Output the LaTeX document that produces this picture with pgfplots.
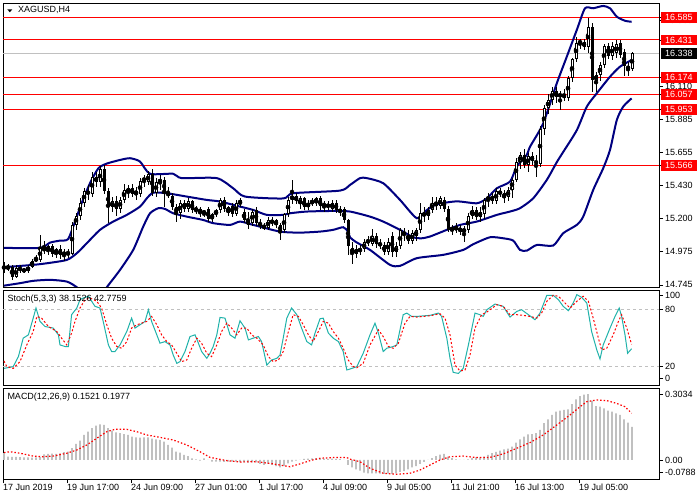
\documentclass[border=0pt]{standalone}
\usepackage{fontspec}
\setmainfont{Liberation Sans}
\usepackage{pgfplots}
\usepackage{pgfplotstable}
\pgfplotsset{compat=1.18}

\definecolor{bandblue}{HTML}{000080}
\definecolor{stochgreen}{HTML}{20B2AA}
\definecolor{silvergray}{HTML}{C0C0C0}

% XAGUSD H4 candles, x = bar number (4 px per bar)
\pgfplotstableread{
i o h l c
0 14.87 14.90 14.83 14.86
1 14.86 14.89 14.84 14.87
2 14.87 14.88 14.78 14.80
3 14.80 14.88 14.79 14.86
4 14.86 14.88 14.83 14.85
5 14.85 14.86 14.83 14.84
6 14.84 14.88 14.83 14.87
7 14.87 14.92 14.86 14.91
8 14.91 14.95 14.90 14.93
9 14.92 15.09 14.90 15.00
10 15.00 15.05 14.96 14.98
11 14.98 15.02 14.95 15.01
12 15.01 15.03 14.94 14.96
13 14.96 15.00 14.93 14.99
14 14.99 15.02 14.92 14.95
15 14.95 14.99 14.91 14.97
16 14.97 14.99 14.93 14.96
17 14.96 15.18 14.95 15.16
18 15.16 15.24 15.12 15.22
19 15.22 15.34 15.19 15.31
20 15.31 15.41 15.28 15.39
21 15.39 15.43 15.33 15.37
22 15.37 15.52 15.35 15.49
23 15.49 15.52 15.42 15.45
24 15.45 15.56 15.42 15.54
25 15.54 15.57 15.37 15.39
26 15.39 15.41 15.17 15.28
27 15.28 15.35 15.25 15.32
28 15.32 15.36 15.22 15.27
29 15.27 15.35 15.24 15.33
30 15.33 15.44 15.31 15.40
31 15.38 15.43 15.34 15.41
32 15.41 15.44 15.35 15.37
33 15.37 15.42 15.33 15.39
34 15.37 15.48 15.35 15.46
35 15.46 15.50 15.42 15.48
36 15.45 15.53 15.43 15.51
37 15.51 15.54 15.36 15.38
38 15.38 15.48 15.35 15.45
39 15.45 15.50 15.40 15.47
40 15.47 15.49 15.28 15.38
41 15.38 15.42 15.34 15.36
42 15.36 15.38 15.26 15.28
43 15.28 15.30 15.18 15.24
44 15.24 15.33 15.20 15.31
45 15.31 15.33 15.25 15.27
46 15.27 15.34 15.25 15.32
47 15.32 15.33 15.24 15.26
48 15.26 15.29 15.23 15.27
49 15.27 15.28 15.21 15.24
50 15.24 15.26 15.21 15.25
51 15.27 15.28 15.18 15.20
52 15.20 15.24 15.18 15.23
53 15.23 15.27 15.21 15.26
54 15.26 15.34 15.24 15.33
55 15.33 15.35 15.25 15.27
56 15.24 15.29 15.22 15.28
57 15.29 15.31 15.21 15.23
58 15.23 15.33 15.22 15.31
59 15.30 15.34 15.28 15.33
60 15.25 15.27 15.17 15.19
61 15.19 15.25 15.13 15.16
62 15.17 15.27 15.15 15.25
63 15.26 15.28 15.15 15.17
64 15.17 15.20 15.13 15.15
65 15.15 15.17 15.12 15.14
66 15.14 15.21 15.12 15.19
67 15.19 15.21 15.15 15.17
68 15.19 15.20 15.14 15.16
69 15.16 15.17 15.055 15.11
70 15.12 15.24 15.10 15.23
71 15.23 15.35 15.21 15.33
72 15.33 15.47 15.30 15.36
73 15.36 15.38 15.30 15.32
74 15.30 15.36 15.27 15.34
75 15.34 15.35 15.26 15.28
76 15.28 15.33 15.26 15.31
77 15.31 15.34 15.29 15.32
78 15.31 15.35 15.29 15.34
79 15.34 15.36 15.26 15.29
80 15.29 15.32 15.25 15.30
81 15.30 15.32 15.26 15.28
82 15.27 15.33 15.25 15.31
83 15.31 15.33 15.24 15.26
84 15.26 15.29 15.22 15.25
85 15.27 15.28 15.17 15.19
86 15.19 15.20 14.95 15.01
87 15.00 15.04 14.89 14.96
88 14.96 15.02 14.93 14.99
89 14.99 15.02 14.95 14.98
90 14.99 15.06 14.97 15.04
91 15.04 15.08 15.01 15.05
92 15.03 15.13 15.01 15.08
93 15.08 15.10 15.00 15.03
94 15.03 15.06 14.99 15.02
95 15.02 15.04 14.95 14.97
96 14.97 15.07 14.95 15.04
97 15.08 15.11 14.94 14.97
98 14.97 15.04 14.94 15.01
99 15.01 15.14 14.99 15.12
100 15.11 15.14 15.05 15.09
101 15.09 15.12 15.03 15.05
102 15.05 15.12 15.03 15.10
103 15.08 15.14 15.05 15.12
104 15.12 15.31 15.10 15.24
105 15.24 15.28 15.18 15.22
106 15.22 15.28 15.19 15.26
107 15.26 15.35 15.24 15.31
108 15.31 15.35 15.26 15.29
109 15.29 15.36 15.27 15.34
110 15.33 15.35 15.25 15.27
111 15.27 15.29 15.11 15.12
112 15.12 15.16 15.09 15.14
113 15.12 15.17 15.10 15.15
114 15.14 15.16 15.09 15.11
115 15.11 15.15 15.04 15.13
116 15.12 15.24 15.10 15.22
117 15.22 15.29 15.20 15.26
118 15.26 15.28 15.19 15.21
119 15.21 15.28 15.18 15.25
120 15.23 15.34 15.20 15.33
121 15.33 15.38 15.28 15.35
122 15.36 15.38 15.30 15.32
123 15.32 15.41 15.30 15.39
124 15.39 15.41 15.35 15.37
125 15.38 15.40 15.31 15.34
126 15.35 15.42 15.32 15.40
127 15.40 15.48 15.34 15.47
128 15.47 15.62 15.45 15.59
129 15.59 15.66 15.54 15.64
130 15.64 15.68 15.55 15.57
131 15.57 15.65 15.52 15.63
132 15.63 15.66 15.57 15.60
133 15.60 15.64 15.49 15.58
134 15.58 15.84 15.56 15.82
135 15.82 15.98 15.78 15.96
136 15.96 16.06 15.92 16.02
137 16.02 16.11 15.98 16.08
138 16.08 16.11 16.00 16.04
139 16.04 16.08 15.95 16.06
140 16.06 16.09 16.01 16.03
141 16.03 16.18 16.01 16.17
142 16.17 16.31 16.14 16.30
143 16.30 16.45 16.28 16.41
144 16.41 16.44 16.37 16.42
145 16.42 16.44 16.36 16.38
146 16.38 16.585 16.34 16.52
147 16.52 16.55 16.075 16.155
148 16.15 16.21 16.07 16.19
149 16.19 16.28 16.15 16.26
150 16.26 16.40 16.24 16.39
151 16.39 16.41 16.30 16.32
152 16.32 16.42 16.29 16.39
153 16.34 16.43 16.31 16.40
154 16.41 16.43 16.31 16.33
155 16.35 16.37 16.18 16.25
156 16.25 16.28 16.18 16.23
157 16.23 16.345 16.22 16.338
}\candles

\tikzset{
  pricebox/.style={text=white, inner xsep=4pt, inner ysep=2pt,
    text height=6.5pt, text depth=0pt},
}
\pgfplotsset{
  mt4/.style={
    scale only axis, width=656pt, anchor=south west,
    xmin=-0.25, xmax=163.75,
    axis line style={black, line width=0.9pt},
    tick style={black, line width=0.7pt},
    tick align=outside, major tick length=4pt,
    xtick pos=bottom, ytick pos=right, yticklabel pos=right,
    xtick=\empty,
    yticklabel style={anchor=west, inner xsep=2pt, inner ysep=1pt},
    /pgf/number format/assume math mode=true,
  },
  candle/.style={only marks, mark=none, forget plot,
    error bars/y dir=both, error bars/y explicit, error bars/error mark=none},
}

\begin{document}
\fontsize{9}{11}\selectfont
\begin{tikzpicture}
\useasboundingbox (0,0) rectangle (700pt,500pt);

% ---------------- price window ----------------
\begin{axis}[mt4, at={(3pt,213pt)}, height=284pt,
  ymin=14.7307, ymax=16.6853,
  ytick={14.745,14.975,15.200,15.430,15.655,15.885,16.110,16.565},
  yticklabels={14.745,14.975,15.200,15.430,15.655,15.885,16.110,16.565},
  extra y ticks={15.566,15.953,16.057,16.174,16.431,16.585},
  extra y tick labels={15.566,15.953,16.057,16.174,16.431,16.585},
  extra y tick style={grid=major, major grid style={red, line width=1pt},
    yticklabel style={pricebox, fill=red, xshift=-2pt}},
  clip mode=individual]

\addplot[silvergray, line width=0.8pt, forget plot] coordinates {(-0.25,16.338) (163.75,16.338)};

% Bollinger bands
\addplot[bandblue, line width=2pt, smooth, tension=0.4] coordinates {
(0,15.00) (9,15.00) (11.5,15.036) (14,15.05) (16,15.06) (17.75,15.18) (19.4,15.307)
(21.5,15.445) (23.6,15.548) (25.7,15.58) (29,15.605) (31.5,15.617) (34,15.594)
(36.5,15.51) (42.3,15.51) (44.4,15.48) (53.2,15.48) (57.3,15.41) (60.25,15.353)
(69.8,15.34) (72.3,15.376) (84,15.394) (86.5,15.433) (89,15.48) (90.7,15.48)
(94.8,15.445) (99,15.33) (103.2,15.204) (105.7,15.26) (108.2,15.30) (113.2,15.32)
(118.2,15.307) (120.7,15.34) (123.2,15.41) (126.5,15.456) (128.2,15.56) (130.7,15.64)
(131.5,15.696) (134.8,15.857) (138.2,16.133) (140.7,16.316) (143.2,16.50)
(145.25,16.649) (147.3,16.649) (149.8,16.665) (151.5,16.649) (153.2,16.591)
(155.25,16.563) (156.9,16.556)};
\addplot[bandblue, line width=2pt, smooth, tension=0.4] coordinates {
(0,14.867) (7.3,14.883) (10.7,14.894) (15.7,14.917) (18.2,14.963) (20.7,15.032)
(24,15.124) (27.3,15.181) (30.7,15.227) (34,15.284) (35.7,15.341) (37.3,15.38)
(40.7,15.376) (45.7,15.353) (50.7,15.33) (54,15.319) (59,15.284) (62.3,15.261)
(65.7,15.227) (69.8,15.227) (71.5,15.238) (75.7,15.25) (82.3,15.254) (86.5,15.25)
(91.5,15.215) (94.8,15.181) (99,15.124) (102.3,15.073) (104.4,15.066) (106.5,15.078)
(110.7,15.124) (114,15.158) (118.2,15.181) (123.2,15.227) (126.5,15.25) (129,15.273)
(132.3,15.341) (135.7,15.468) (138.2,15.59) (139.8,15.66) (143.2,15.81)
(145.7,15.972) (148.2,16.064) (151.5,16.178) (154,16.247) (156.9,16.293)};
\addplot[bandblue, line width=2pt, smooth, tension=0.4] coordinates {
(0,14.74) (4,14.757) (7.3,14.773) (11.5,14.78) (15.7,14.768) (18.2,14.729) (21,14.66)
(23.5,14.64) (25.7,14.729) (29,14.848) (32.3,14.986) (34.8,15.146) (36.5,15.238)
(38.6,15.273) (40.25,15.268) (42.3,15.238) (45.7,15.215) (49.8,15.192) (52.3,15.17)
(56.5,15.158) (59,15.181) (62.3,15.158) (69,15.112) (74,15.105) (79,15.112)
(82.3,15.124) (84.8,15.142) (86,15.112) (86.5,15.073) (88,15.04) (91.5,14.986)
(96.5,14.883) (99,14.876) (103.2,14.929) (109.8,14.952) (114.8,14.986) (117.3,15.025)
(121.5,15.073) (124.8,15.066) (127.3,15.05) (129,14.986) (130.7,14.981) (133.2,15.02)
(137.3,15.016) (139.8,15.101) (143.2,15.158) (144.8,15.215) (147.3,15.399)
(149.8,15.548) (151.5,15.674) (153.2,15.88) (154.8,15.972) (156.9,16.029)};

% candles: wicks, bearish bodies, bullish bodies (black outline, white inside)
\addplot[candle, error bars/error bar style={black, line width=1pt}]
  table[x=i, y expr={(\thisrow{h}+\thisrow{l})/2},
        y error expr={(\thisrow{h}-\thisrow{l})/2}] {\candles};
\addplot[candle, restrict y to domain=14:17,
  error bars/error bar style={black, line width=3pt}]
  table[x=i, y expr={ifthenelse(\thisrow{c}<\thisrow{o},(\thisrow{o}+\thisrow{c})/2,100)},
        y error expr={max(abs(\thisrow{o}-\thisrow{c})/2,0.0035)}] {\candles};
\addplot[candle, restrict y to domain=14:17,
  error bars/error bar style={black, line width=3pt}]
  table[x=i, y expr={ifthenelse(\thisrow{c}<\thisrow{o},100,(\thisrow{o}+\thisrow{c})/2)},
        y error expr={max(abs(\thisrow{o}-\thisrow{c})/2,0.0035)}] {\candles};
\addplot[candle, restrict y to domain=14:17,
  error bars/error bar style={white, line width=1pt}]
  table[x=i, y expr={ifthenelse(\thisrow{c}<\thisrow{o},100,(\thisrow{o}+\thisrow{c})/2)},
        y error expr={max(abs(\thisrow{o}-\thisrow{c})/2-0.0069,0)}] {\candles};

\node[pricebox, fill=black, anchor=west] at ([xshift=2pt]axis cs:163.75,16.338) {16.338};
\node[anchor=west, inner sep=0pt] at ([xshift=15pt,yshift=-7pt]axis description cs:0,1) {XAGUSD,H4};
\end{axis}
% window menu triangle
\fill (7.3pt,490.7pt) -- (12.3pt,490.7pt) -- (9.8pt,487.7pt) -- cycle;

% ---------------- stochastic window ----------------
\begin{axis}[mt4, at={(3pt,115pt)}, height=95pt,
  ymin=0, ymax=100,
  ytick={7,20,80,94.4}, yticklabels={0,20,80,100}]
\addplot[silvergray, line width=0.8pt, dash pattern=on 3pt off 3pt] coordinates {(-0.25,20) (163.75,20)};
\addplot[silvergray, line width=0.8pt, dash pattern=on 3pt off 3pt] coordinates {(-0.25,80) (163.75,80)};
\addplot[stochgreen, line width=1pt] coordinates {
(0,17.5) (2.3,19.3) (3.6,29.9) (4.8,49.3) (6.1,52.8) (7.3,70.4) (8,81.0) (9,66.9)
(10.25,61.6) (12.3,59.9) (13.6,52.8) (14,42.2) (15.25,40.5) (16.1,40.5) (16.9,74.0)
(18.2,81.0) (19,89.8) (19.8,91.6) (21.1,93.4) (22.75,82.8) (24,81.0) (24.8,66.9)
(26.1,42.2) (26.9,35.2) (27.75,35.2) (29,42.2) (30.7,56.3) (31.9,70.4) (32.75,59.9)
(34,63.4) (35.25,66.9) (36.1,79.2) (36.9,66.9) (38.2,52.8) (39,44.0) (40.25,45.7)
(41.5,42.2) (42.3,31.6) (43.2,22.8) (44,24.6) (45.25,35.2) (46.5,51.0) (47.75,52.8)
(48.6,44.0) (49.4,35.2) (50.7,28.1) (51.5,33.4) (52.3,40.5) (53.2,52.8) (54,71.1)
(55.25,70.4) (56.5,52.8) (57.75,49.3) (59,67.6) (60.25,59.9) (61.1,47.5) (62.3,49.3)
(63.6,51.0) (64.4,45.7) (65.7,21.0) (66.9,26.3) (68.2,28.1) (69,31.6) (69.8,49.3)
(70.7,70.4) (71.9,81.0) (73.2,74.0) (74.4,59.9) (75.7,45.7) (76.9,42.2) (77.75,54.6)
(79,69.7) (79.8,70.4) (81.1,54.6) (82.3,49.3) (83.6,45.7) (84.8,35.2) (85.7,15.8)
(86.5,16.8) (88.2,19.3) (89.8,33.4) (91.5,52.8) (92.75,65.1) (93.6,54.6) (94.8,35.2)
(95.7,38.7) (97.3,40.5) (98.2,42.2) (99.8,74.0) (100.7,75.7) (101.9,72.2) (103.2,72.2)
(106.5,73.3) (108.6,75.7) (109.4,72.2) (110.7,49.3) (111.5,28.1) (112.3,13.3)
(113.6,12.2) (114.8,17.5) (116.1,42.2) (117.75,75.7) (119,74.0) (119.8,72.2)
(120.7,79.2) (122.75,85.2) (124.8,82.8) (126.5,71.5) (128.2,77.5) (129.4,79.2)
(131.1,74.0) (132.75,68.7) (134,75.7) (135.7,94.4) (137.3,94.4) (138.6,89.8)
(139.8,82.8) (141.1,78.2) (142.3,86.3) (143.2,95.1) (144.4,92.3) (145.7,86.3)
(146.9,56.3) (148.2,36.9) (149,27.4) (149.8,42.2) (151.5,59.9) (152.75,72.2)
(153.8,81.0) (154.4,72.2) (155.25,52.8) (155.9,33.4) (156.9,38.15)};
\addplot[red, line width=1pt, dash pattern=on 2pt off 2pt] coordinates {
(0,25.3) (0.7,19.3) (2.3,17.5) (4,24.6) (5.7,42.2) (7.3,56.3) (8.2,72.2) (9.4,70.4)
(11.1,61.6) (13.2,56.3) (14.4,49.3) (15.7,42.2) (16.9,54.6) (17.75,66.9) (19,81.0)
(20.25,89.8) (21.5,91.6) (23.2,88.1) (24.4,81.0) (25.7,63.4) (26.9,49.3) (28.2,40.5)
(29.4,38.7) (30.7,45.7) (31.9,59.9) (33.2,63.4) (34.4,65.1) (35.7,66.9) (36.9,72.2)
(38.2,63.4) (39.4,52.8) (40.7,45.7) (41.9,42.2) (43.2,33.4) (44.4,24.6) (45.7,26.3)
(46.9,38.7) (48.2,49.3) (49.4,44.0) (50.7,33.4) (51.9,29.9) (53.2,42.2) (54.4,56.3)
(55.7,65.1) (56.9,59.9) (58.2,52.8) (59.4,59.9) (60.7,59.9) (61.9,52.8) (63.2,49.3)
(64.8,42.2) (66.1,29.9) (67.3,24.6) (68.6,26.3) (69.8,35.2) (71.1,56.3) (72.3,74.0)
(73.6,72.2) (74.8,63.4) (76.1,52.8) (77.3,45.7) (78.6,56.3) (79.8,66.9) (81.1,65.1)
(82.3,56.3) (83.6,49.3) (84.8,38.7) (86.1,26.0) (87.3,19.5) (88.2,18.2) (89.8,22.8)
(91.5,42.2) (93.6,58.1) (94.8,51.0) (96.1,40.5) (97.3,38.7) (98.6,44.0) (100.25,65.1)
(101.5,72.2) (103.2,71.5) (106.5,72.9) (109,75.0) (110.25,70.4) (111.5,52.8)
(112.75,21.0) (114,14.7) (115.25,15.8) (116.5,31.6) (117.75,59.9) (119.4,74.0)
(120.7,76.8) (123.2,84.5) (124.8,82.8) (126.5,74.0) (128.2,74.0) (129.8,73.3)
(131.5,72.2) (133.2,70.4) (134.4,75.7) (135.7,88.1) (137.3,94.4) (138.6,93.4)
(140.25,86.3) (141.5,81.0) (143.2,88.1) (144.8,93.4) (146.1,88.1) (147.3,70.4)
(148.6,49.3) (149.4,36.9) (150.7,38.7) (152.3,52.8) (153.6,66.9) (154.4,74.0)
(155.7,59.9) (156.9,42.78)};
\node[anchor=west, inner sep=0pt] at ([xshift=4.3pt,yshift=-9pt]axis description cs:0,1) {Stoch(5,3,3) 38.1526 42.7759};
\end{axis}

% ---------------- MACD window ----------------
\begin{axis}[mt4, at={(3pt,21pt)}, height=91pt,
  ymin=-0.0874, ymax=0.331,
  ytick={-0.055,0,0.3034}, yticklabels={-0.0788,0.00,0.3034},
  xtick={-0.25,15.75,31.75,47.75,63.75,79.75,95.75,111.75,127.75,143.75},
  xticklabels={17 Jun 2019,19 Jun 17:00,24 Jun 09:00,27 Jun 01:00,1 Jul 17:00,
    4 Jul 09:00,9 Jul 05:00,11 Jul 21:00,16 Jul 13:00,19 Jul 05:00},
  xticklabel style={anchor=north west, inner xsep=0pt, inner ysep=1pt}]
\addplot[ybar, bar width=1.6pt, fill=silvergray, draw=none] coordinates {
(0,0.031) (1,0.016) (2,0.014) (3,0.014) (4,0.013) (5,0.012) (6,0.012) (7,0.011)
(8,0.012) (9,0.013) (10,0.026) (11,0.028) (12,0.029) (13,0.028) (14,0.030)
(15,0.036) (16,0.038) (17,0.054) (18,0.074) (19,0.089) (20,0.115) (21,0.130)
(22,0.146) (23,0.158) (24,0.164) (25,0.161) (26,0.146) (27,0.135) (28,0.127)
(29,0.123) (30,0.119) (31,0.115) (32,0.107) (33,0.104) (34,0.103) (35,0.104)
(36,0.104) (37,0.098) (38,0.095) (39,0.092) (40,0.084) (41,0.069) (42,0.057)
(43,0.038) (44,0.034) (45,0.023) (46,0.018) (47,0.008) (48,0.003) (49,-0.003)
(50,0.008) (51,0.000) (52,-0.007) (53,-0.008) (54,-0.008) (55,-0.009) (56,-0.008)
(57,-0.007) (58,-0.008) (59,-0.010) (60,-0.011) (61,-0.012) (62,-0.011) (63,-0.011)
(64,-0.018) (65,-0.023) (66,-0.018) (67,-0.023) (68,-0.028) (69,-0.034) (70,-0.028)
(71,-0.015) (72,-0.008) (73,-0.003) (74,0.000) (75,0.005) (76,0.006) (77,0.008)
(78,0.009) (79,0.009) (80,0.006) (81,0.005) (82,0.006) (83,0.005) (84,0.004)
(85,0.000) (86,-0.023) (87,-0.034) (88,-0.043) (89,-0.049) (90,-0.058) (91,-0.061)
(92,-0.061) (93,-0.061) (94,-0.063) (95,-0.064) (96,-0.063) (97,-0.064) (98,-0.061)
(99,-0.055) (100,-0.051) (101,-0.043) (102,-0.034) (103,-0.028) (104,-0.018)
(105,-0.009) (106,0.000) (107,0.009) (108,0.018) (109,0.025) (110,0.028) (111,0.015)
(112,0.009) (113,0.003) (114,0.000) (115,0.000) (116,0.003) (117,0.009) (118,0.012)
(119,0.012) (120,0.015) (121,0.023) (122,0.031) (123,0.037) (124,0.043) (125,0.049)
(126,0.052) (127,0.061) (128,0.080) (129,0.095) (130,0.107) (131,0.118) (132,0.119)
(133,0.123) (134,0.138) (135,0.169) (136,0.187) (137,0.207) (138,0.222) (139,0.227)
(140,0.230) (141,0.233) (142,0.257) (143,0.279) (144,0.294) (145,0.300) (146,0.3034)
(147,0.273) (148,0.248) (149,0.245) (150,0.237) (151,0.227) (152,0.222) (153,0.214)
(154,0.207) (155,0.187) (156,0.172) (157,0.1521)};
\addplot[red, line width=1.2pt, dash pattern=on 1.5pt off 2pt] coordinates {
(0,0.034) (1.5,0.038) (4,0.031) (7.3,0.018) (9.8,0.015) (12.3,0.018) (15.7,0.031)
(18.2,0.046) (20.7,0.069) (23.2,0.100) (25.7,0.130) (27.75,0.141) (30.7,0.141)
(33.2,0.130) (35.7,0.115) (39,0.104) (42.3,0.092) (45.7,0.069) (49,0.038) (51.5,0.012)
(55.7,-0.003) (59,-0.009) (63.2,-0.008) (67.3,-0.018) (71.5,-0.031) (74,-0.018)
(76.5,-0.003) (79,0.008) (82.3,0.011) (85.7,0.011) (86.5,0.004) (89,-0.008)
(91.5,-0.038) (94.8,-0.061) (98.2,-0.066) (101.5,-0.061) (104,-0.046) (106.5,-0.023)
(109,0.000) (111.5,0.015) (114.8,0.018) (118.2,0.011) (121.5,0.012) (124.8,0.028)
(128.2,0.054) (131.5,0.080) (134.8,0.115) (138.2,0.161) (141.5,0.207) (144,0.245)
(145.7,0.268) (148.2,0.276) (150.7,0.273) (153.2,0.260) (155.25,0.245) (156.9,0.215)};
\node[anchor=west, inner sep=0pt] at ([xshift=4.3pt,yshift=-9pt]axis description cs:0,1) {MACD(12,26,9) 0.1521 0.1977};
\end{axis}
\end{tikzpicture}
\end{document}
